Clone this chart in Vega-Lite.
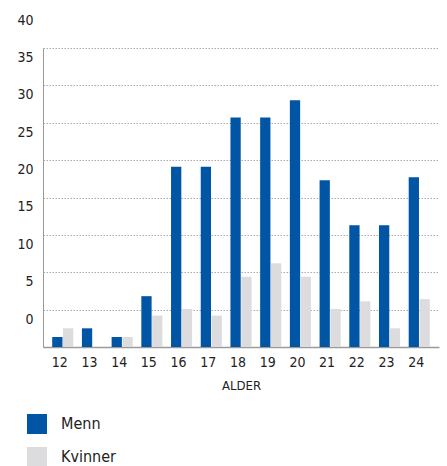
{
  "$schema": "https://vega.github.io/schema/vega-lite/v6.json",
  "autosize": "none",
  "padding": {"left": 43, "top": 48, "right": 8, "bottom": 119},
  "width": 396,
  "height": 299,
  "config": {
    "font": "DejaVu Sans Condensed, Roboto, sans-serif",
    "view": {"stroke": null}
  },
  "data": {
    "values": [
      {"alder": "12", "kjonn": "Menn", "verdi": 1.34},
      {"alder": "12", "kjonn": "Kvinner", "verdi": 2.5},
      {"alder": "13", "kjonn": "Menn", "verdi": 2.5},
      {"alder": "13", "kjonn": "Kvinner", "verdi": 0},
      {"alder": "14", "kjonn": "Menn", "verdi": 1.34},
      {"alder": "14", "kjonn": "Kvinner", "verdi": 1.34},
      {"alder": "15", "kjonn": "Menn", "verdi": 6.8},
      {"alder": "15", "kjonn": "Kvinner", "verdi": 4.2},
      {"alder": "16", "kjonn": "Menn", "verdi": 24.1},
      {"alder": "16", "kjonn": "Kvinner", "verdi": 5.1},
      {"alder": "17", "kjonn": "Menn", "verdi": 24.1},
      {"alder": "17", "kjonn": "Kvinner", "verdi": 4.2},
      {"alder": "18", "kjonn": "Menn", "verdi": 30.7},
      {"alder": "18", "kjonn": "Kvinner", "verdi": 9.4},
      {"alder": "19", "kjonn": "Menn", "verdi": 30.7},
      {"alder": "19", "kjonn": "Kvinner", "verdi": 11.2},
      {"alder": "20", "kjonn": "Menn", "verdi": 33.0},
      {"alder": "20", "kjonn": "Kvinner", "verdi": 9.4},
      {"alder": "21", "kjonn": "Menn", "verdi": 22.3},
      {"alder": "21", "kjonn": "Kvinner", "verdi": 5.1},
      {"alder": "22", "kjonn": "Menn", "verdi": 16.3},
      {"alder": "22", "kjonn": "Kvinner", "verdi": 6.1},
      {"alder": "23", "kjonn": "Menn", "verdi": 16.3},
      {"alder": "23", "kjonn": "Kvinner", "verdi": 2.5},
      {"alder": "24", "kjonn": "Menn", "verdi": 22.7},
      {"alder": "24", "kjonn": "Kvinner", "verdi": 6.4}
    ]
  },
  "mark": {"type": "bar"},
  "encoding": {
    "x": {
      "field": "alder",
      "type": "nominal",
      "sort": null,
      "title": "ALDER",
      "scale": {"paddingInner": 0.29, "paddingOuter": 0.31},
      "axis": {
        "labelAngle": 0,
        "ticks": false,
        "domainColor": "#9a9a9a",
        "domainWidth": 1.5,
        "labelFontSize": 14,
        "labelColor": "#222222",
        "labelPadding": 8,
        "labelOffset": -3,
        "titleFontSize": 13,
        "titleFontWeight": "normal",
        "titleColor": "#222222",
        "titlePadding": 10
      }
    },
    "y": {
      "field": "verdi",
      "type": "quantitative",
      "title": null,
      "scale": {"domain": [0, 40], "nice": false},
      "axis": {
        "values": [0, 5, 10, 15, 20, 25, 30, 35, 40],
        "ticks": false,
        "domainColor": "#9a9a9a",
        "domainWidth": 1,
        "gridColor": "#aaaaaa",
        "gridDash": [1.5, 1.5],
        "gridWidth": 1,
        "labelFontSize": 14,
        "labelColor": "#222222",
        "labelPadding": 10,
        "labelOffset": -28
      }
    },
    "xOffset": {"field": "kjonn", "type": "nominal", "sort": ["Menn", "Kvinner"], "scale": {"paddingInner": 0.05}},
    "color": {
      "field": "kjonn",
      "type": "nominal",
      "sort": ["Menn", "Kvinner"],
      "scale": {"domain": ["Menn", "Kvinner"], "range": ["#0055a5", "#dcdcde"]},
      "legend": {
        "title": null,
        "orient": "none",
        "legendX": -16,
        "legendY": 366,
        "direction": "vertical",
        "symbolType": "square",
        "symbolSize": 400,
        "symbolStrokeWidth": 0,
        "symbolOpacity": 1,
        "labelFontSize": 16,
        "labelColor": "#222222",
        "labelOffset": 14,
        "rowPadding": 13
      }
    }
  }
}
